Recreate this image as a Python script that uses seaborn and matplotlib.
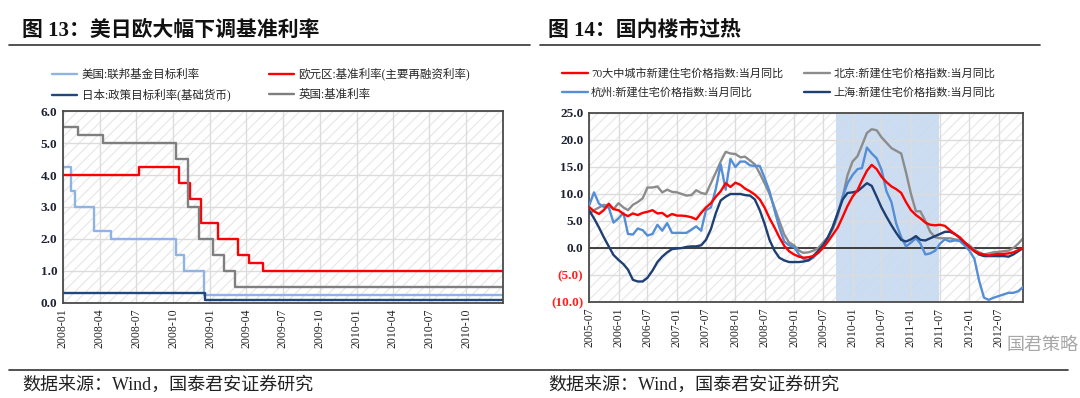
import numpy as np
import pandas as pd
import matplotlib
matplotlib.use("Agg")
import matplotlib.pyplot as plt
import matplotlib.dates as mdates
from matplotlib.lines import Line2D
from matplotlib.ticker import FuncFormatter
import seaborn as sns

# =========================================
# DATA — figure 13 (policy rates, step changes)
# =========================================
us_dates = ["2008-01-01", "2008-01-22", "2008-01-30", "2008-03-18", "2008-04-30",
            "2008-10-08", "2008-10-29", "2008-12-16", "2010-12-31"]
us_rate = [4.25, 3.5, 3.0, 2.25, 2.0, 1.5, 1.0, 0.25, 0.25]

ecb_dates = ["2008-01-01", "2008-07-09", "2008-10-15", "2008-11-12", "2008-12-10",
             "2009-01-21", "2009-03-11", "2009-04-08", "2009-05-13", "2010-12-31"]
ecb_rate = [4.0, 4.25, 3.75, 3.25, 2.5, 2.0, 1.5, 1.25, 1.0, 1.0]

jp_dates = ["2008-01-01", "2008-12-19", "2010-12-31"]
jp_rate = [0.3, 0.1, 0.1]

uk_dates = ["2008-01-01", "2008-02-07", "2008-04-10", "2008-10-08", "2008-11-06",
            "2008-12-04", "2009-01-08", "2009-02-05", "2009-03-05", "2010-12-31"]
uk_rate = [5.5, 5.25, 5.0, 4.5, 3.0, 2.0, 1.5, 1.0, 0.5, 0.5]

# =========================================
# DATA — figure 14 (new home price index, YoY %, monthly 2005-07 .. 2012-12)
# =========================================
months = pd.date_range("2005-07-01", "2012-12-01", freq="MS")

city70 = [7.6, 6.8, 6.3, 7.0, 8.2, 7.2, 7.0, 6.3, 5.9, 6.4,
          6.1, 6.5, 6.7, 7.0, 6.4, 6.5, 5.8, 6.3, 6.0, 6.0,
          5.9, 5.7, 5.3, 6.5, 7.5, 8.3, 9.5, 10.5, 12.0, 11.3,
          12.1, 11.7, 11.0, 10.5, 9.9, 9.0, 7.5, 5.5, 3.8, 2.0,
          0.4, -0.6, -1.2, -1.6, -1.8, -1.7, -1.5, -0.9, 0.0, 1.2,
          2.5, 3.8, 5.8, 7.8, 9.5, 10.7, 12.5, 14.3, 15.4, 14.6,
          13.2, 12.2, 11.4, 10.9, 10.2, 8.5, 7.0, 6.1, 5.5, 4.7,
          4.3, 4.2, 4.3, 4.1, 3.3, 2.6, 2.0, 1.1, 0.2, -0.6,
          -1.0, -1.2, -1.4, -1.2, -1.1, -1.1, -1.0, -0.8, -0.4, 0.0]

beijing = [6.3, 7.0, 7.5, 8.0, 7.8, 7.2, 8.3, 7.5, 7.0, 8.0,
           8.5, 9.2, 11.2, 11.2, 11.4, 10.3, 10.8, 10.4, 10.3, 10.0,
           9.7, 9.8, 10.7, 10.2, 10.0, 12.0, 14.0, 16.0, 17.8, 17.5,
           17.4, 16.8, 16.9, 16.2, 15.5, 13.8, 12.0, 10.0, 7.5, 5.0,
           2.5, 1.0, 0.5, -0.5, -0.9, -0.8, -0.5, 0.0, 1.0, 2.0,
           3.5, 6.0, 9.5, 13.5, 16.0, 17.0, 19.0, 21.3, 22.0, 21.8,
           20.5, 19.5, 18.5, 18.0, 17.5, 14.0, 10.0, 6.8, 6.8, 5.0,
           3.0, 2.0, 1.8, 1.8, 1.8, 1.6, 1.5, 1.0, 0.5, -0.3,
           -0.8, -1.2, -1.0, -0.8, -0.7, -0.6, -0.5, 0.0, 0.8, 1.8]

hangzhou = [7.8, 10.3, 8.2, 7.6, 7.5, 4.7, 5.5, 6.5, 2.6, 2.5,
            3.6, 3.3, 2.3, 2.6, 4.3, 3.2, 4.6, 2.8, 2.8, 2.8,
            2.8, 3.4, 4.0, 3.2, 7.0, 7.5, 11.0, 15.5, 10.8, 16.5,
            15.0, 16.0, 16.0, 15.3, 15.2, 15.2, 13.0, 10.5, 7.0, 3.8,
            1.2, 0.5, 0.2, -1.2, -2.0, -2.3, -1.8, -0.8, 0.5, 2.0,
            4.0, 6.5, 9.5, 12.0, 13.5, 14.6, 14.8, 18.6, 17.5, 16.6,
            14.5, 10.5, 8.5, 4.5, 2.0, 0.3, 1.0, 1.8, 0.8, -1.2,
            -1.0, -0.5, 0.8, 1.6, 1.2, 1.4, 1.3, 0.5, -0.5, -2.0,
            -6.0, -9.2, -9.6, -9.2, -8.9, -8.6, -8.3, -8.3, -8.0, -7.2]

shanghai = [7.0, 5.5, 3.8, 2.0, 0.3, -1.3, -2.2, -3.0, -4.0, -5.9,
            -6.2, -6.2, -5.5, -4.2, -2.6, -1.6, -0.8, -0.2, -0.1, 0.0,
            0.2, 0.3, 0.3, 0.5, 1.5, 3.5, 6.5, 8.8, 9.5, 10.0,
            10.0, 10.0, 9.8, 9.7, 9.0, 7.0, 4.5, 1.5, -0.5, -1.8,
            -2.3, -2.6, -2.6, -2.6, -2.5, -2.3, -1.5, -0.5, 0.5, 2.0,
            4.0, 6.5, 9.0, 10.2, 10.3, 10.5, 11.2, 12.0, 11.5, 9.5,
            7.5, 5.8, 4.2, 2.8, 1.5, 1.2, 1.6, 2.2, 1.5, 1.4,
            1.8, 2.2, 2.6, 3.0, 3.0, 2.6, 1.9, 1.0, 0.2, -0.6,
            -1.2, -1.5, -1.5, -1.5, -1.5, -1.5, -1.6, -1.2, -0.6, 0.0]

shade_start, shade_end = "2009-09-18", "2011-06-25"

left_labels = ["美国:联邦基金目标利率", "日本:政策目标利率(基础货币)",
               "欧元区:基准利率(主要再融资利率)", "英国:基准利率"]
right_labels = ["70大中城市新建住宅价格指数:当月同比", "杭州:新建住宅价格指数:当月同比",
                "北京:新建住宅价格指数:当月同比", "上海:新建住宅价格指数:当月同比"]

# =========================================
# STYLE
# =========================================
sns.set_style("white")
plt.rcParams["font.family"] = ["Liberation Serif", "Noto Sans CJK SC"]
plt.rcParams["hatch.linewidth"] = 0.8
plt.rcParams["axes.unicode_minus"] = False

fig = plt.figure(figsize=(10.8, 3.98), dpi=100)
ax1 = fig.add_axes([0.0583, 0.2387, 0.4074, 0.4824])
ax2 = fig.add_axes([0.5454, 0.2412, 0.4019, 0.4749])


def frame(ax):
    ax.patch.set_hatch("///")
    ax.patch.set_edgecolor("#e6e6e6")
    ax.set_axisbelow(True)
    ax.grid(True, color="#dcdcdc", lw=1.0)
    for s in ax.spines.values():
        s.set_color("#4a4a4a")
        s.set_linewidth(1.3)
    ax.tick_params(axis="both", direction="in", length=3, color="#4a4a4a")
    ax.tick_params(axis="x", labelrotation=90, labelsize=8.5, pad=4)
    ax.tick_params(axis="y", labelsize=9.5, pad=4)
    for lab in ax.get_yticklabels():
        lab.set_fontweight("bold")
        lab.set_color("#1e2233")
    ax.set_xlabel("")
    ax.set_ylabel("")


# ---------- figure 13 ----------
sns.lineplot(x=pd.to_datetime(us_dates), y=us_rate, drawstyle="steps-post",
             color="#8db4e2", lw=1.7, label=left_labels[0], ax=ax1)
sns.lineplot(x=pd.to_datetime(jp_dates), y=jp_rate, drawstyle="steps-post",
             color="#1f497d", lw=1.7, label=left_labels[1], ax=ax1)
sns.lineplot(x=pd.to_datetime(ecb_dates), y=ecb_rate, drawstyle="steps-post",
             color="#ff0000", lw=1.7, label=left_labels[2], ax=ax1)
sns.lineplot(x=pd.to_datetime(uk_dates), y=uk_rate, drawstyle="steps-post",
             color="#7f7f7f", lw=1.7, label=left_labels[3], ax=ax1)

ax1.set_xlim(pd.Timestamp("2008-01-01"), pd.Timestamp("2010-12-31"))
ax1.set_ylim(0, 6)
ax1.set_yticks(np.arange(0, 6.1, 1.0))
ax1.yaxis.set_major_formatter(FuncFormatter(lambda v, p: f"{v:.1f}"))
ax1.xaxis.set_major_locator(mdates.MonthLocator(bymonth=(1, 4, 7, 10)))
ax1.xaxis.set_major_formatter(mdates.DateFormatter("%Y-%m"))
frame(ax1)
ax1.legend(loc="upper left", bbox_to_anchor=(52 / 1080, 1 - 68 / 398),
           bbox_transform=fig.transFigure, ncol=2, frameon=False,
           fontsize=8.3, handlelength=2.2, handletextpad=0.4, columnspacing=3.3,
           labelspacing=0.7, borderpad=0, borderaxespad=0)

# ---------- figure 14 ----------
ax2.axvspan(pd.Timestamp(shade_start), pd.Timestamp(shade_end),
            color="#c8daf0", alpha=0.9, lw=0, zorder=0.4)
ax2.axhline(0, color="#222222", lw=1.2, zorder=1.5)

sns.lineplot(x=months, y=city70, color="#ff0000", lw=1.7, label=right_labels[0], ax=ax2, zorder=3)
sns.lineplot(x=months, y=hangzhou, color="#558ed5", lw=1.7, label=right_labels[1], ax=ax2, zorder=2.6)
sns.lineplot(x=months, y=beijing, color="#8c8c8c", lw=1.7, label=right_labels[2], ax=ax2, zorder=2.4)
sns.lineplot(x=months, y=shanghai, color="#1f3f73", lw=1.7, label=right_labels[3], ax=ax2, zorder=2.8)

ax2.set_xlim(months[0], months[-1])
ax2.set_ylim(-10, 25)
yt = np.arange(-10, 25.1, 5.0)
ax2.set_yticks(yt)
ax2.yaxis.set_major_formatter(
    FuncFormatter(lambda v, p: f"{v:.1f}" if v >= 0 else f"({-v:.1f})"))
ax2.xaxis.set_major_locator(mdates.MonthLocator(bymonth=(1, 7)))
ax2.xaxis.set_major_formatter(mdates.DateFormatter("%Y-%m"))
frame(ax2)
for tick, v in zip(ax2.yaxis.get_major_ticks(), yt):
    if v < 0:
        tick.label1.set_color("#ff2020")
ax2.legend(loc="upper left", bbox_to_anchor=(562 / 1080, 1 - 68 / 398),
           bbox_transform=fig.transFigure, ncol=2, frameon=False,
           fontsize=8, handlelength=2.3, handletextpad=0.3, columnspacing=1.9,
           labelspacing=0.75, borderpad=0, borderaxespad=0)

# ---------- titles, rules, source notes ----------
fig.text(22 / 1080, 1 - 31 / 398, "图 13：美日欧大幅下调基准利率",
         fontsize=15, fontweight="bold", va="center", ha="left", color="#111111")
fig.text(548 / 1080, 1 - 31 / 398, "图 14：国内楼市过热",
         fontsize=15, fontweight="bold", va="center", ha="left", color="#111111")
fig.add_artist(Line2D([9 / 1080, 530 / 1080], [1 - 45 / 398] * 2,
                      transform=fig.transFigure, color="#333333", lw=1.2))
fig.add_artist(Line2D([540 / 1080, 1040 / 1080], [1 - 45 / 398] * 2,
                      transform=fig.transFigure, color="#333333", lw=1.2))
fig.add_artist(Line2D([9 / 1080, 1068 / 1080], [1 - 370 / 398] * 2,
                      transform=fig.transFigure, color="#333333", lw=1.2))
fig.text(22 / 1080, 1 - 385 / 398, "数据来源：Wind，国泰君安证券研究",
         fontsize=13, va="center", ha="left", color="#222222")
fig.text(548 / 1080, 1 - 385 / 398, "数据来源：Wind，国泰君安证券研究",
         fontsize=13, va="center", ha="left", color="#222222")

# watermark
fig.text(1042 / 1080, 1 - 345 / 398, "国君策略", fontsize=13, va="center", ha="center",
         color="#8a8a8a", alpha=0.75, family=["Noto Sans CJK SC"])

fig.savefig("out.png", dpi=100)
